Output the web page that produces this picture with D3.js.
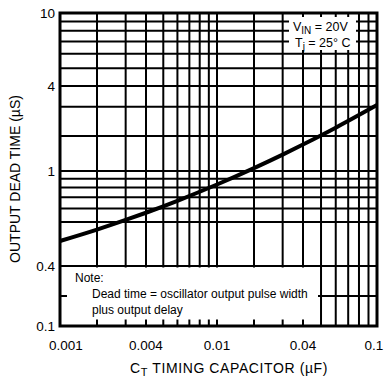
<!DOCTYPE html>
<html>
<head>
<meta charset="utf-8">
<script src="https://cdn.jsdelivr.net/npm/d3@7"></script>
<style>
  body { margin: 0; background: #fff; }
  text { font-family: "Liberation Sans", Arial, Helvetica, sans-serif; fill: #000; }
</style>
</head>
<body>
<div id="chart"></div>
<script>
// dead time curve
const capacitance = [0.001, 0.002, 0.003, 0.004, 0.006, 0.01, 0.02, 0.03, 0.04, 0.06, 0.1];
const deadTime = [0.454, 0.481, 0.514, 0.567, 0.667, 0.832, 1.059, 1.384, 1.69, 2.244, 3.07];

const xTickValues = [0.001, 0.004, 0.01, 0.04, 0.1];
const xTickLabels = ['0.001', '0.004', '0.01', '0.04', '0.1'];
const yTickValues = [0.1, 0.4, 1, 4, 10];
const yTickLabels = ['0.1', '0.4', '1', '4', '10'];

const xGridValues = [0.002, 0.003, 0.005, 0.006, 0.007, 0.008, 0.009,
  0.02, 0.03, 0.05, 0.06, 0.07, 0.08, 0.09];
const yGridValues = [0.2, 0.5, 0.6, 0.7, 0.8, 0.9, 2, 3, 5, 6, 7, 8, 9];

const noteLines = ['Dead time = oscillator output pulse width', 'plus output delay'];

let width = 384;
let height = 379;

let svg = d3.select('#chart')
  .append('svg')
  .attr('width', width)
  .attr('height', height);

// the printed log paper is not quite even, so the scales are pinned
// to a few points measured on the grid
let x = d3.scaleLog()
  .domain([0.001, 0.002, 0.004, 0.01, 0.02, 0.04, 0.1])
  .range([60, 97, 146, 217, 254, 303, 377]);

let y = d3.scaleLog()
  .domain([0.1, 0.4, 0.5, 1, 2, 4, 10])
  .range([326, 266, 222, 171, 136, 86, 13]);

let x0 = x(0.001), x1 = x(0.1), y0 = y(10), y1 = y(0.1);

let grid = svg.append('g')
  .attr('stroke', '#000')
  .attr('stroke-width', 2);

grid.selectAll('.vgrid')
  .data(xGridValues.concat(xTickValues.slice(1, -1)))
  .enter()
  .append('line')
  .attr('class', 'vgrid')
  .attr('x1', d => x(d))
  .attr('x2', d => x(d))
  .attr('y1', y0)
  .attr('y2', y1);

grid.selectAll('.hgrid')
  .data(yGridValues.concat(yTickValues.slice(1, -1)))
  .enter()
  .append('line')
  .attr('class', 'hgrid')
  .attr('x1', x0)
  .attr('x2', x1)
  .attr('y1', d => y(d))
  .attr('y2', d => y(d));

// white boxes for the note and the conditions
svg.append('rect')
  .attr('x', x0 + 7)
  .attr('y', y(0.4) + 1.5)
  .attr('width', 251)
  .attr('height', 52)
  .attr('fill', '#fff');

svg.append('rect')
  .attr('x', 289)
  .attr('y', 17)
  .attr('width', 67)
  .attr('height', 33)
  .attr('fill', '#fff');

// frame
svg.append('rect')
  .attr('x', x0)
  .attr('y', y0)
  .attr('width', x1 - x0)
  .attr('height', y1 - y0)
  .attr('fill', 'none')
  .attr('stroke', '#000')
  .attr('stroke-width', 3);

let line = d3.line()
  .x(d => x(d[0]))
  .y(d => y(d[1]))
  .curve(d3.curveMonotoneX);

svg.append('path')
  .datum(d3.zip(capacitance, deadTime))
  .attr('d', line)
  .attr('fill', 'none')
  .attr('stroke', '#000')
  .attr('stroke-width', 4);

// tick labels (end ones pulled in a little, as printed)
svg.selectAll('.xlabel')
  .data(xTickValues)
  .enter()
  .append('text')
  .attr('class', 'xlabel')
  .attr('x', d => Math.min(Math.max(x(d), 66), width - 10))
  .attr('y', 350)
  .attr('text-anchor', 'middle')
  .style('font-size', '13.5px')
  .text((d, i) => xTickLabels[i]);

svg.selectAll('.ylabel')
  .data(yTickValues)
  .enter()
  .append('text')
  .attr('class', 'ylabel')
  .attr('x', 55)
  .attr('y', d => y(d) + 5)
  .attr('text-anchor', 'end')
  .style('font-size', '13.5px')
  .text((d, i) => yTickLabels[i]);

// axis titles
let xTitle = svg.append('text')
  .attr('x', 229)
  .attr('y', 373)
  .attr('text-anchor', 'middle')
  .style('font-size', '14px')
  .style('letter-spacing', '0.6px');
xTitle.append('tspan').text('C');
xTitle.append('tspan').attr('dy', 3).style('font-size', '11px').text('T');
xTitle.append('tspan').attr('dy', -3).text(' TIMING CAPACITOR (µF)');

svg.append('text')
  .attr('transform', 'translate(20,179) rotate(-90)')
  .attr('text-anchor', 'middle')
  .style('font-size', '14px')
  .text('OUTPUT DEAD TIME (µS)');

// conditions
let vin = svg.append('text')
  .attr('x', 293)
  .attr('y', 31)
  .style('font-size', '12.5px');
vin.append('tspan').text('V');
vin.append('tspan').attr('dy', 3).style('font-size', '10px').text('IN');
vin.append('tspan').attr('dy', -3).text(' = 20V');

let tj = svg.append('text')
  .attr('x', 295)
  .attr('y', 47)
  .style('font-size', '12.5px');
tj.append('tspan').text('T');
tj.append('tspan').attr('dy', 3).style('font-size', '10px').text('j');
tj.append('tspan').attr('dy', -3).text(' = 25° C');

// note
svg.append('text')
  .attr('x', 75)
  .attr('y', 282)
  .style('font-size', '12px')
  .text('Note:');

svg.selectAll('.note')
  .data(noteLines)
  .enter()
  .append('text')
  .attr('class', 'note')
  .attr('x', 92)
  .attr('y', (d, i) => 298 + i * 16)
  .style('font-size', '12px')
  .text(d => d);
</script>
</body>
</html>
